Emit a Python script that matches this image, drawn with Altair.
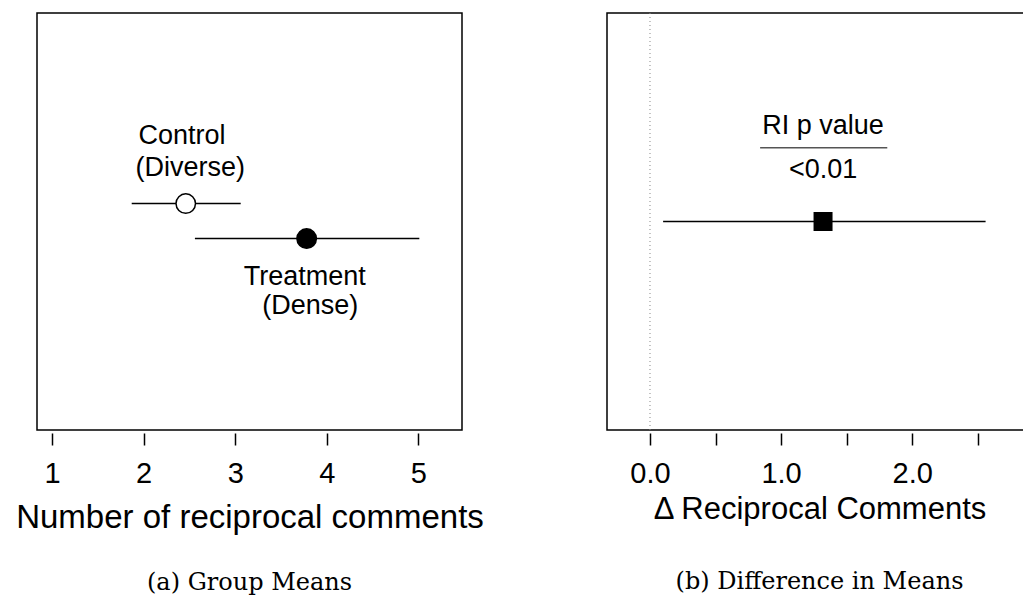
import altair as alt
import pandas as pd

# ---- Panel (a): group means ----
groups = ["Control", "Treatment"]
group_means = [2.46, 3.78]
group_lo = [1.87, 2.56]
group_hi = [3.06, 5.01]
group_y = [0.543, 0.459]
group_fill = ["white", "black"]

label_text = ["Control", "(Diverse)", "Treatment", "(Dense)"]
label_x = [2.42, 2.51, 3.76, 3.82]
label_y = [0.686, 0.609, 0.348, 0.278]

left_ticks = [1, 2, 3, 4, 5]

# ---- Panel (b): difference in means ----
diff_mean = [1.32]
diff_lo = [0.10]
diff_hi = [2.56]
diff_y = [0.5]

p_text = ["RI p value", "<0.01"]
p_x = [1.32, 1.32]
p_y = [0.71, 0.604]
p_rule_x = [0.84]
p_rule_x2 = [1.81]
p_rule_y = [0.677]

zero_line = [0.0]
right_ticks = [0.0, 0.5, 1.0, 1.5, 2.0, 2.5]

FONT = "Liberation Sans"

df_groups = pd.DataFrame({"group": groups, "mean": group_means, "lo": group_lo,
                          "hi": group_hi, "y": group_y, "fill": group_fill})
df_labels = pd.DataFrame({"text": label_text, "x": label_x, "y": label_y})
df_diff = pd.DataFrame({"mean": diff_mean, "lo": diff_lo, "hi": diff_hi, "y": diff_y})
df_p = pd.DataFrame({"text": p_text, "x": p_x, "y": p_y})
df_prule = pd.DataFrame({"x": p_rule_x, "x2": p_rule_x2, "y": p_rule_y})
df_zero = pd.DataFrame({"x": zero_line})

yscale = alt.Scale(domain=[0, 1], nice=False, zero=False)
xs_left = alt.Scale(domain=[0.836, 5.476], nice=False, zero=False)
xs_right = alt.Scale(domain=[-0.328, 2.914], nice=False, zero=False)

left_axis = alt.Axis(values=left_ticks, format="d", title="Number of reciprocal comments",
                     titleFontSize=33, titleY=94)
right_axis = alt.Axis(values=right_ticks,
                      labelExpr="datum.value % 1 === 0 ? format(datum.value, '.1f') : ''",
                      title="\u0394 Reciprocal Comments", titleFontSize=31, titleY=85)

Y = alt.Y("y:Q", scale=yscale, axis=None)

left_bars = alt.Chart(df_groups).mark_rule(color="black", strokeWidth=1.5).encode(
    x=alt.X("lo:Q", scale=xs_left, axis=left_axis), x2="hi:Q", y=Y)
left_pts = alt.Chart(df_groups).mark_point(shape="circle", filled=True, size=380,
                                            stroke="black", strokeWidth=1.5, opacity=1).encode(
    x=alt.X("mean:Q", scale=xs_left, axis=left_axis), y=Y,
    fill=alt.Fill("fill:N", scale=None))
left_txt = alt.Chart(df_labels).mark_text(font=FONT, fontSize=27, align="center",
                                          baseline="alphabetic", color="black").encode(
    x=alt.X("x:Q", scale=xs_left, axis=left_axis), y=Y, text="text:N")

left = alt.layer(left_bars, left_pts, left_txt).properties(
    width=425, height=417,
    title=alt.TitleParams("(a) Group Means", orient="bottom", offset=56,
                          baseline="alphabetic", anchor="middle"))

zero_rule = alt.Chart(df_zero).mark_rule(color="#888", strokeDash=[1, 3], strokeWidth=1).encode(
    x=alt.X("x:Q", scale=xs_right, axis=right_axis))
right_bar = alt.Chart(df_diff).mark_rule(color="black", strokeWidth=1.5).encode(
    x=alt.X("lo:Q", scale=xs_right, axis=right_axis), x2="hi:Q", y=Y)
right_pt = alt.Chart(df_diff).mark_point(shape="square", filled=True, size=361,
                                         color="black", opacity=1).encode(
    x=alt.X("mean:Q", scale=xs_right, axis=right_axis), y=Y)
p_rule = alt.Chart(df_prule).mark_rule(color="#555", strokeWidth=1.5).encode(
    x=alt.X("x:Q", scale=xs_right, axis=right_axis), x2="x2:Q", y=Y)
p_txt = alt.Chart(df_p).mark_text(font=FONT, fontSize=27, align="center",
                                  baseline="alphabetic", color="black").encode(
    x=alt.X("x:Q", scale=xs_right, axis=right_axis), y=Y, text="text:N")

right = alt.layer(zero_rule, right_bar, right_pt, p_rule, p_txt).properties(
    width=425, height=417,
    title=alt.TitleParams("(b) Difference in Means", orient="bottom", offset=65,
                          baseline="alphabetic", anchor="middle"))

chart = alt.hconcat(left, right, spacing=145, bounds="flush").properties(
    padding={"left": 14, "top": 11, "right": -10, "bottom": 0}
).configure_view(
    stroke="black", strokeWidth=1.5
).configure_axis(
    domain=False, grid=False, tickColor="black", tickWidth=1.5, tickSize=12, offset=3,
    labelFont=FONT, labelFontSize=29, labelColor="black", labelBaseline="alphabetic",
    labelPadding=37, labelFlush=False, labelOverlap=False, labelBound=False,
    titleFont=FONT, titleColor="black", titleFontWeight="normal", titleBaseline="alphabetic"
).configure_title(
    font="DejaVu Serif", fontSize=24, fontWeight="normal", color="black"
)

chart.save("out.html", embed_options={"renderer": "svg", "actions": False})
